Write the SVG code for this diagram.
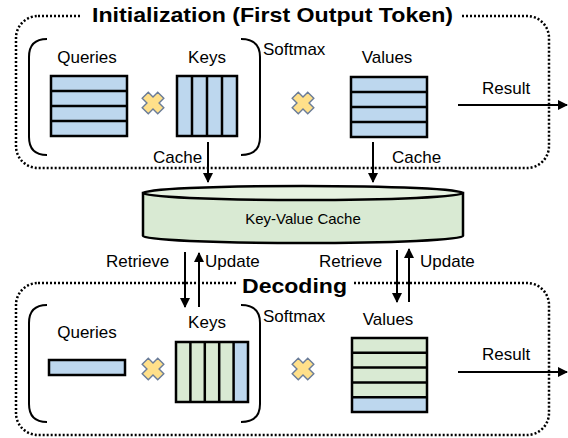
<svg xmlns="http://www.w3.org/2000/svg" width="568" height="438" viewBox="0 0 568 438">
<style>
text{font-family:"Liberation Sans",Arial,sans-serif;fill:#000}
.lbl{font-size:17px}
.ttl{font-size:21px;font-weight:bold}
.frame{fill:none;stroke:#000;stroke-width:2.5;stroke-dasharray:2 2}
.br{fill:none;stroke:#000;stroke-width:2}
.mat{stroke:#000;stroke-width:2.5}
.blue{fill:#BDD7EE}
.green{fill:#D9EAD3}
.ln{stroke:#000;stroke-width:2.5}
.arr{stroke:#000;stroke-width:2;fill:none;marker-end:url(#ah)}
.x{fill:#FFE08A;stroke:#6A7C98;stroke-width:1.4}
</style>
<defs>
<marker id="ah" viewBox="0 0 10 10" refX="9" refY="5" markerWidth="5" markerHeight="5" orient="auto" markerUnits="strokeWidth">
<path d="M0,0 L10,5 L0,10 z" fill="#000"/>
</marker>
<polygon id="cross" class="x" points="-4.3,-11 4.3,-11 4.3,-4.3 11,-4.3 11,4.3 4.3,4.3 4.3,11 -4.3,11 -4.3,4.3 -11,4.3 -11,-4.3 -4.3,-4.3" transform="rotate(45)"/>
</defs>

<g id="init-frame">
<rect class="frame" x="16" y="16" width="533" height="152" rx="22"/>
<rect x="80" y="4" width="382" height="26" fill="#fff"/>
<text class="ttl" x="92" y="22" textLength="361" lengthAdjust="spacingAndGlyphs">Initialization (First Output Token)</text>
</g>

<g id="decode-frame">
<rect class="frame" x="16" y="283" width="533" height="152" rx="22"/>
<rect x="236" y="270" width="117" height="26" fill="#fff"/>
<text class="ttl" x="242" y="293" textLength="105" lengthAdjust="spacingAndGlyphs">Decoding</text>
</g>

<g id="init-bracket">
<path class="br" d="M47,39 Q29,39 29,57 V137 Q29,155 47,155"/>
<path class="br" d="M241,39 Q260,39 260,57 V137 Q260,155 241,155"/>
</g>

<g id="init-queries">
<text class="lbl" x="87" y="63" text-anchor="middle">Queries</text>
<rect class="mat blue" x="51" y="76" width="76" height="60"/>
<line class="ln" x1="51" y1="91" x2="127" y2="91"/>
<line class="ln" x1="51" y1="106" x2="127" y2="106"/>
<line class="ln" x1="51" y1="121" x2="127" y2="121"/>
</g>

<g id="init-keys">
<text class="lbl" x="207" y="63" text-anchor="middle">Keys</text>
<rect class="mat blue" x="177" y="76" width="60" height="60"/>
<line class="ln" x1="192" y1="76" x2="192" y2="136"/>
<line class="ln" x1="207" y1="76" x2="207" y2="136"/>
<line class="ln" x1="222" y1="76" x2="222" y2="136"/>
</g>

<g id="init-mult1"><use href="#cross" transform="translate(153,103)"/></g>
<g id="init-softmax"><text class="lbl" x="263" y="55">Softmax</text></g>
<g id="init-mult2"><use href="#cross" transform="translate(303,103)"/></g>

<g id="init-values">
<text class="lbl" x="387" y="63" text-anchor="middle">Values</text>
<rect class="mat blue" x="351" y="77" width="76" height="60"/>
<line class="ln" x1="351" y1="92" x2="427" y2="92"/>
<line class="ln" x1="351" y1="107" x2="427" y2="107"/>
<line class="ln" x1="351" y1="122" x2="427" y2="122"/>
</g>

<g id="kv-cache">
<path d="M143,193 V236 A160,7 0 0 0 463,236 V193 Z" fill="#D9EAD3" stroke="#000" stroke-width="2.5"/>
<ellipse cx="303" cy="193" rx="160" ry="7" fill="#E6F2E1" stroke="#000" stroke-width="2.5"/>
<text x="303" y="224" text-anchor="middle" style="font-size:15px">Key-Value Cache</text>
</g>

<g id="dec-bracket">
<path class="br" d="M47,305 Q29,305 29,323 V404 Q29,422 47,422"/>
<path class="br" d="M241,305 Q260,305 260,323 V404 Q260,422 241,422"/>
</g>

<g id="dec-queries">
<text class="lbl" x="87" y="338" text-anchor="middle">Queries</text>
<rect class="mat blue" x="49" y="360" width="76" height="15"/>
</g>

<g id="dec-keys">
<text class="lbl" x="207" y="328" text-anchor="middle">Keys</text>
<rect class="green" x="176" y="342" width="58" height="60"/>
<rect class="blue" x="234" y="342" width="14" height="60"/>
<rect x="176" y="342" width="72" height="60" fill="none" stroke="#000" stroke-width="2.5"/>
<line class="ln" x1="190.4" y1="342" x2="190.4" y2="402"/>
<line class="ln" x1="204.8" y1="342" x2="204.8" y2="402"/>
<line class="ln" x1="219.2" y1="342" x2="219.2" y2="402"/>
<line class="ln" x1="233.6" y1="342" x2="233.6" y2="402"/>
</g>

<g id="dec-mult1"><use href="#cross" transform="translate(153,369)"/></g>
<g id="dec-softmax"><text class="lbl" x="263" y="322">Softmax</text></g>
<g id="dec-mult2"><use href="#cross" transform="translate(303,369)"/></g>

<g id="dec-values">
<text class="lbl" x="388" y="325" text-anchor="middle">Values</text>
<rect class="green" x="352" y="338" width="75" height="59"/>
<rect class="blue" x="352" y="397" width="75" height="15"/>
<rect x="352" y="338" width="75" height="74" fill="none" stroke="#000" stroke-width="2.5"/>
<line class="ln" x1="352" y1="352.8" x2="427" y2="352.8"/>
<line class="ln" x1="352" y1="367.6" x2="427" y2="367.6"/>
<line class="ln" x1="352" y1="382.4" x2="427" y2="382.4"/>
<line class="ln" x1="352" y1="397.2" x2="427" y2="397.2"/>
</g>

<g id="connectors">
<line class="arr" x1="208" y1="142" x2="208" y2="182"/>
<line class="arr" x1="373" y1="142" x2="373" y2="182"/>
<line class="arr" x1="458" y1="105" x2="567" y2="105"/>
<line class="arr" x1="185" y1="252" x2="185" y2="307"/>
<line class="arr" x1="199" y1="307" x2="199" y2="253"/>
<line class="arr" x1="397" y1="250" x2="397" y2="302"/>
<line class="arr" x1="409" y1="302" x2="409" y2="249"/>
<line class="arr" x1="458" y1="372" x2="567" y2="372"/>
<text class="lbl" x="153" y="163">Cache</text>
<text class="lbl" x="392" y="163">Cache</text>
<text class="lbl" x="482" y="94">Result</text>
<text class="lbl" x="106" y="267">Retrieve</text>
<text class="lbl" x="205" y="267">Update</text>
<text class="lbl" x="319" y="267">Retrieve</text>
<text class="lbl" x="420" y="267">Update</text>
<text class="lbl" x="482" y="360">Result</text>
</g>
</svg>
